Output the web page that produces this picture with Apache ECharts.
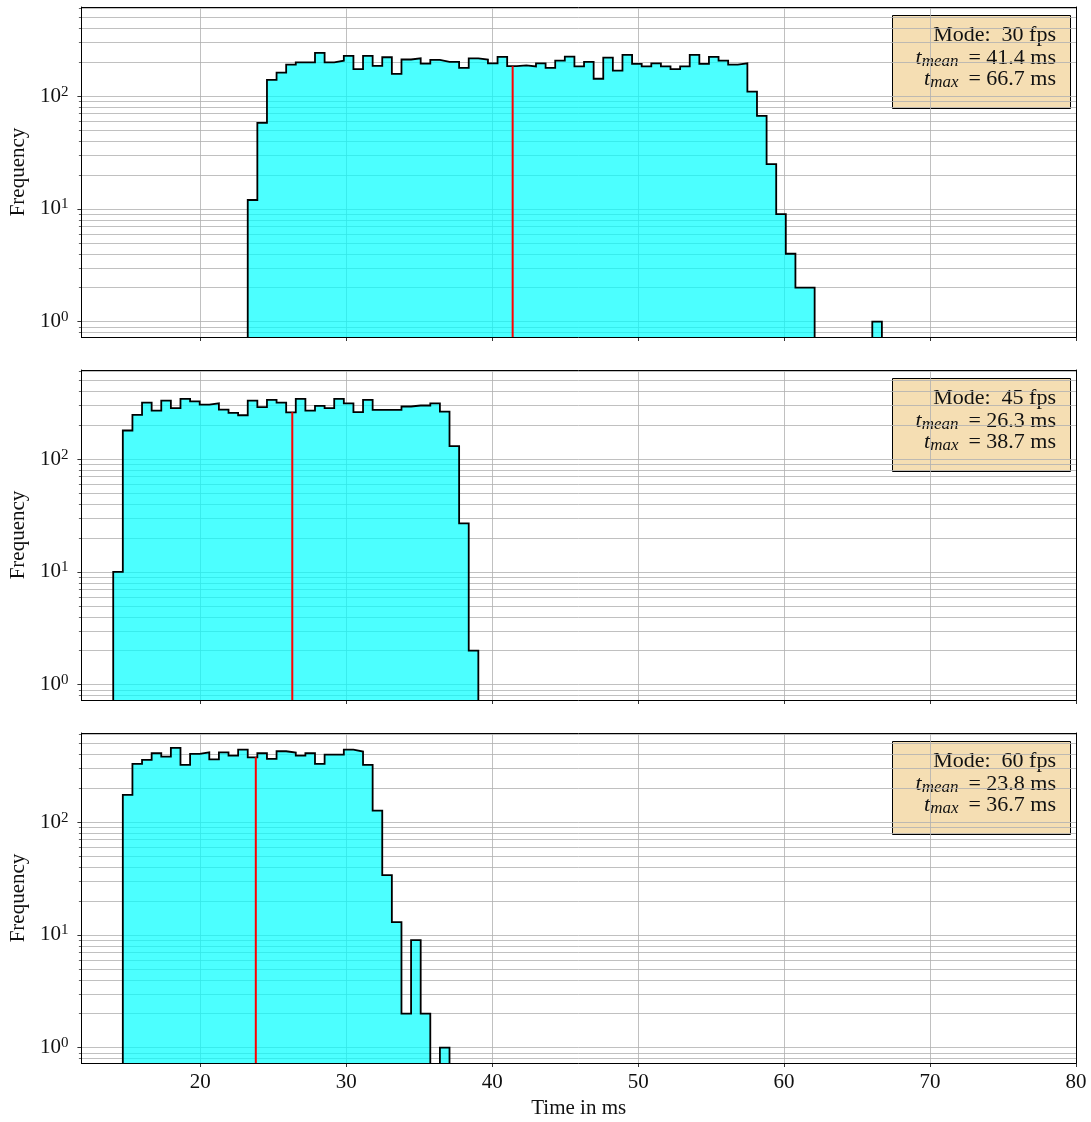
<!DOCTYPE html>
<html>
<head>
<meta charset="utf-8">
<script src="https://cdn.jsdelivr.net/npm/echarts@6/dist/echarts.min.js"></script>
<style>
  html, body { margin: 0; padding: 0; background: #ffffff; }
  #chart { width: 1091px; height: 1122px; }
</style>
</head>
<body>
<div id="chart"></div>
<script>
// Frame-time histograms, one panel per render mode (shared bin edges, log counts).
const BIN_LO = 14.03;   // left edge of the first bin, ms
const BIN_HI = 66.7;    // right edge of the last bin, ms
const N_BINS = 80;

const X_MIN = 11.85, X_MAX = 80;
const Y_MIN = 0.73, Y_MAX = 620;
const X_TICKS = [20, 30, 40, 50, 60, 70, 80];
const Y_MAJOR = [1, 10, 100];
const Y_MINOR = [0.8, 0.9, 2, 3, 4, 5, 6, 7, 8, 9, 20, 30, 40, 50, 60, 70, 80, 90,
                 200, 300, 400, 500, 600];

const modes = ['30 fps', '45 fps', '60 fps'];
const meanMs = [41.4, 26.3, 23.8];
const maxMs = [66.7, 38.7, 36.7];

const counts30 = [
  0, 0, 0, 0, 0, 0, 0, 0, 0, 0, 0, 0, 0, 0,
  12, 58, 140, 162, 191, 200, 200, 243, 200, 207, 228, 174, 228, 186, 222, 158,
  212, 217, 195, 210, 202, 202, 179, 217, 212, 196, 224, 185, 188, 184, 196, 179,
  207, 225, 184, 202, 143, 220, 169, 233, 194, 184, 196, 184, 174, 184, 233, 194,
  224, 207, 191, 196, 110, 67, 25, 9, 4, 2, 2,
  0, 0, 0, 0, 0, 0, 1
];
const counts45 = [
  10, 180, 248, 318, 270, 332, 284, 344, 327, 306, 314, 276, 258, 246, 332, 290,
  337, 318, 261, 344, 270, 298, 284, 344, 314, 262, 337, 274, 274, 274, 294, 300,
  300, 314, 265, 131, 27, 2,
  0, 0, 0, 0, 0, 0, 0, 0, 0, 0, 0, 0, 0, 0, 0, 0, 0, 0, 0, 0, 0,
  0, 0, 0, 0, 0, 0, 0, 0, 0, 0, 0, 0, 0, 0, 0, 0, 0, 0, 0, 0, 0
];
const counts60 = [
  0, 175, 330, 358, 410, 383, 457, 323, 404, 418, 362, 418, 391, 441, 377, 410,
  366, 427, 416, 391, 410, 330, 399, 399, 441, 424, 323, 127, 34, 13, 2, 9, 2,
  0, 1,
  0, 0, 0, 0, 0, 0, 0, 0, 0, 0, 0, 0, 0, 0, 0, 0, 0, 0, 0, 0, 0, 0, 0,
  0, 0, 0, 0, 0, 0, 0, 0, 0, 0, 0, 0, 0, 0, 0, 0, 0, 0, 0, 0, 0, 0
];
const panelCounts = [counts30, counts45, counts60];

// ---- layout ----
const GRID_TOPS = [7, 370, 733];
const GRID_H = 330, GRID_LEFT = 79, GRID_RIGHT = 15;
const CHART_W = 1091;
const FONT = "'Liberation Serif', 'Times New Roman', serif";
const TEXT_COLOR = '#111111';
const GRID_COLOR = '#b0b0b0';

const binW = (BIN_HI - BIN_LO) / N_BINS;
const edge = k => BIN_LO + k * binW;

// Outline of a step histogram; empty bins break the path so nothing is
// traced along the bottom of the axes.
function stepPoints(counts) {
  const pts = [];
  let inRun = false;
  counts.forEach((c, k) => {
    if (c > 0) {
      if (!inRun) pts.push([edge(k), Y_MIN]);
      pts.push([edge(k), c], [edge(k + 1), c]);
      inRun = true;
    } else if (inRun) {
      pts.push([edge(k), Y_MIN], [edge(k), '-']);
      inRun = false;
    }
  });
  if (inRun) pts.push([edge(counts.length), Y_MIN]);
  return pts;
}

function heightAt(counts, x) {
  const k = Math.floor((x - BIN_LO) / binW);
  return counts[k];
}

const grids = [], xAxes = [], yAxes = [], series = [], graphics = [];

GRID_TOPS.forEach((top, i) => {
  const last = i === GRID_TOPS.length - 1;
  grids.push({ left: GRID_LEFT, right: GRID_RIGHT, top: top, height: GRID_H, containLabel: false });

  // x: gridlines (under the data)
  xAxes.push({
    gridIndex: i, type: 'value', min: X_MIN, max: X_MAX, z: 0,
    axisLine: { show: false },
    axisTick: { show: false, customValues: X_TICKS },
    axisLabel: { show: false, customValues: X_TICKS },
    splitLine: { show: true, lineStyle: { color: GRID_COLOR, width: 0.8 } }
  });
  // x: bottom spine, ticks and labels (over the data)
  xAxes.push({
    gridIndex: i, type: 'value', min: X_MIN, max: X_MAX, position: 'bottom', z: 10,
    axisLine: { show: true, onZero: false, lineStyle: { color: '#000', width: 1 } },
    axisTick: { show: true, inside: false, length: 4, customValues: X_TICKS,
                lineStyle: { color: '#000', width: 0.8 } },
    axisLabel: { show: last, customValues: X_TICKS, margin: 9,
                 fontFamily: FONT, fontSize: 21, color: TEXT_COLOR },
    splitLine: { show: false },
    name: last ? 'Time in ms' : '',
    nameLocation: 'middle', nameGap: 35,
    nameTextStyle: { fontFamily: FONT, fontSize: 21, color: TEXT_COLOR }
  });
  // x: top spine
  xAxes.push({
    gridIndex: i, type: 'value', min: X_MIN, max: X_MAX, position: 'top', z: 10,
    axisLine: { show: true, onZero: false, lineStyle: { color: '#000', width: 1 } },
    axisTick: { show: false }, axisLabel: { show: false }, splitLine: { show: false }
  });

  const logBase = { gridIndex: i, type: 'log', logBase: 10, min: Y_MIN, max: Y_MAX };
  // y: major + minor gridlines
  yAxes.push(Object.assign({}, logBase, {
    z: 0,
    axisLine: { show: false },
    axisTick: { show: false, customValues: Y_MAJOR.concat(Y_MINOR) },
    axisLabel: { show: false, customValues: Y_MAJOR.concat(Y_MINOR) },
    minorTick: { show: false }, minorSplitLine: { show: false },
    splitLine: { show: true, lineStyle: { color: GRID_COLOR, width: 0.8 } }
  }));
  // y: left spine, decade ticks and labels
  yAxes.push(Object.assign({}, logBase, {
    position: 'left', z: 10,
    axisLine: { show: true, onZero: false, lineStyle: { color: '#000', width: 1 } },
    axisTick: { show: true, inside: false, length: 4, customValues: Y_MAJOR,
                lineStyle: { color: '#000', width: 0.8 } },
    axisLabel: {
      show: true, customValues: Y_MAJOR, margin: 13,
      formatter: v => '{b|10}{s|' + Math.round(Math.log10(v)) + '}',
      rich: {
        b: { fontFamily: FONT, fontSize: 21, color: TEXT_COLOR, lineHeight: 24 },
        s: { fontFamily: FONT, fontSize: 15, color: TEXT_COLOR, lineHeight: 10, verticalAlign: 'top' }
      }
    },
    splitLine: { show: false },
    name: 'Frequency', nameLocation: 'middle', nameGap: 50,
    nameTextStyle: { fontFamily: FONT, fontSize: 21, color: TEXT_COLOR }
  }));
  // y: minor ticks
  yAxes.push(Object.assign({}, logBase, {
    position: 'left', z: 10,
    axisLine: { show: false },
    axisTick: { show: true, inside: false, length: 2.5, customValues: Y_MINOR,
                lineStyle: { color: '#000', width: 0.6 } },
    axisLabel: { show: false, customValues: Y_MINOR },
    splitLine: { show: false }
  }));
  // y: right spine
  yAxes.push(Object.assign({}, logBase, {
    position: 'right', z: 10,
    axisLine: { show: true, onZero: false, lineStyle: { color: '#000', width: 1 } },
    axisTick: { show: false }, axisLabel: { show: false }, splitLine: { show: false }
  }));

  const counts = panelCounts[i];
  series.push({
    type: 'line', xAxisIndex: 3 * i, yAxisIndex: 4 * i,
    data: stepPoints(counts),
    symbol: 'none', showSymbol: false, silent: true, z: 3, connectNulls: false,
    lineStyle: { color: '#000000', width: 1.8, join: 'miter' },
    areaStyle: { color: 'rgb(0,255,255)', opacity: 0.7, origin: 'start' }
  });
  series.push({
    type: 'line', xAxisIndex: 3 * i, yAxisIndex: 4 * i,
    data: [[meanMs[i], Y_MIN], [meanMs[i], heightAt(counts, meanMs[i])]],
    symbol: 'none', showSymbol: false, silent: true, z: 4,
    lineStyle: { color: '#ff0000', width: 2 }
  });

  // annotation box in the upper right corner of each panel
  const boxW = 178, boxH = 93;
  const boxRight = CHART_W - GRID_RIGHT - 6;
  const boxTop = top + 8;
  const textX = boxRight - 14;
  const sub = { fontFamily: FONT, fontSize: 17, fontStyle: 'italic', fill: TEXT_COLOR, lineHeight: 16, verticalAlign: 'bottom' };
  const ital = { fontFamily: FONT, fontSize: 22, fontStyle: 'italic', fill: TEXT_COLOR, lineHeight: 24 };
  const norm = { fontFamily: FONT, fontSize: 22, fill: TEXT_COLOR, lineHeight: 24 };
  const richStyle = { t: ital, s: sub, n: norm };
  graphics.push({
    type: 'group', z: 20,
    children: [
      { type: 'rect', shape: { x: boxRight - boxW + 0.5, y: boxTop + 0.5, width: boxW, height: boxH },
        style: { fill: '#f5deb3', stroke: '#000', lineWidth: 1 } },
      { type: 'text', x: textX, y: boxTop + 20,
        style: { text: 'Mode:  ' + modes[i], align: 'right', verticalAlign: 'middle',
                 fontFamily: FONT, fontSize: 22, fill: TEXT_COLOR } },
      { type: 'text', x: textX, y: boxTop + 43,
        style: {
          text: '{t|t}{s|mean}{n| \u2009= ' + meanMs[i].toFixed(1) + ' ms}',
          align: 'right', verticalAlign: 'middle', rich: richStyle
        } },
      { type: 'text', x: textX, y: boxTop + 64,
        style: {
          text: '{t|t}{s|max}{n| \u2009= ' + maxMs[i].toFixed(1) + ' ms}',
          align: 'right', verticalAlign: 'middle', rich: richStyle
        } }
    ]
  });
});

const chart = echarts.init(document.getElementById('chart'), null, { renderer: 'canvas' });
chart.setOption({
  animation: false,
  backgroundColor: '#ffffff',
  grid: grids,
  xAxis: xAxes,
  yAxis: yAxes,
  series: series,
  graphic: graphics
});
</script>
</body>
</html>
